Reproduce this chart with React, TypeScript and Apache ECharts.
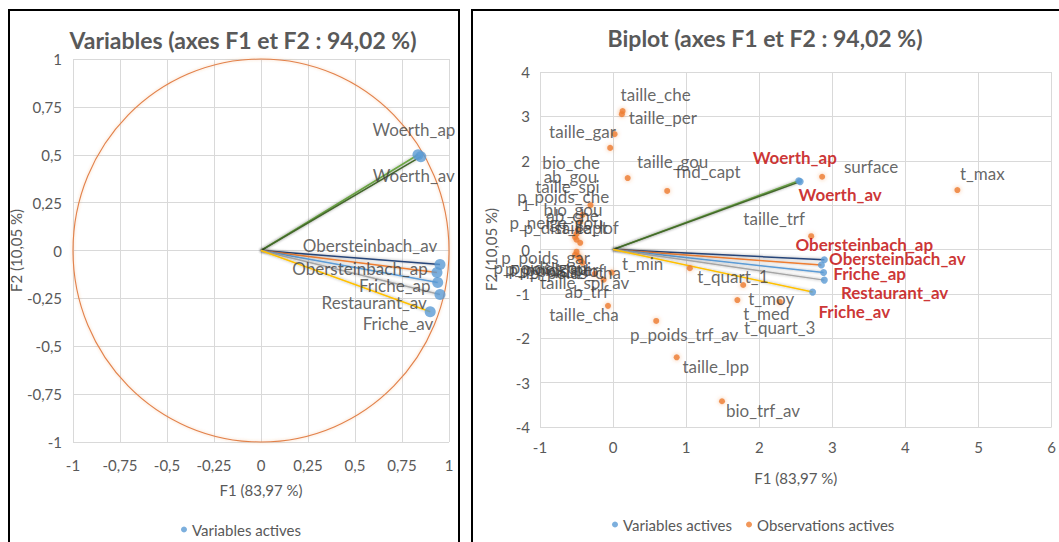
import React, { useEffect, useRef } from "react";
import * as echarts from "echarts";

// ---------- Data ----------
const TITLE_LEFT = "Variables (axes F1 et F2 : 94,02 %)";
const TITLE_RIGHT = "Biplot (axes F1 et F2 : 94,02 %)";
const X_NAME = "F1 (83,97 %)";
const Y_NAME = "F2 (10,05 %)";
const LEGEND_VAR = "Variables actives";
const LEGEND_OBS = "Observations actives";

const CIRCLE_RADIUS = 1;

const VAR_NAMES = ["Woerth_ap", "Woerth_av", "Obersteinbach_ap", "Obersteinbach_av", "Friche_ap", "Friche_av", "Restaurant_av"];
// correlation circle coordinates
const VAR_F1 = [0.835, 0.85, 0.952, 0.936, 0.94, 0.952, 0.9];
const VAR_F2 = [0.5, 0.49, -0.073, -0.115, -0.167, -0.23, -0.32];
// biplot coordinates of the variables
const BI_VAR_F1 = [2.54, 2.56, 2.89, 2.85, 2.88, 2.89, 2.73];
const BI_VAR_F2 = [1.55, 1.53, -0.23, -0.35, -0.52, -0.69, -0.96];

const OBS_NAMES = [
  "taille_che", "taille_per", "taille_gar", "bio_che", "taille_gou", "fnd_capt", "ab_gou", "taille_spi",
  "p_poids_che", "bio_gou", "ab_che", "p_neige_gou", "p_dist_capt", "taille_lof", "p_poids_gar", "p_poids_gou",
  "p_poids_spi", "p_poids_per", "p_poids_lof", "p_poids_cha", "taille_spi_av", "ab_trf", "surface", "t_max",
  "taille_trf", "t_min", "t_quart_1", "t_moy", "t_med", "t_quart_3", "p_poids_trf_av", "taille_lpp",
  "bio_trf_av", "taille_cha",
];
const OBS_F1 = [
  0.13, 0.12, 0.02, -0.04, 0.2, 0.74, -0.31, -0.42,
  -0.45, -0.48, -0.5, -0.52, -0.5, -0.45, -0.5, -0.52,
  -0.48, -0.46, -0.44, -0.42, -0.13, -0.25, 2.86, 4.71,
  2.71, -0.02, 1.05, 1.78, 1.7, 2.28, 0.59, 0.87,
  1.49, -0.07,
];
const OBS_F2 = [
  3.12, 3.05, 2.6, 2.29, 1.61, 1.32, 1.0, 0.78,
  0.62, 0.45, 0.35, 0.28, 0.22, 0.15, -0.05, -0.12,
  -0.15, -0.2, -0.25, -0.3, -0.68, -0.55, 1.64, 1.34,
  0.3, -0.52, -0.42, -0.8, -1.14, -1.18, -1.61, -2.43,
  -3.42, -1.27,
];

const LEFT_X_TICKS = { min: -1, max: 1, interval: 0.25 };
const LEFT_Y_TICKS = { min: -1, max: 1, interval: 0.25 };
const RIGHT_X_TICKS = { min: -1, max: 6, interval: 1 };
const RIGHT_Y_TICKS = { min: -4, max: 4, interval: 1 };

// ---------- Layout / style (label offsets in px from the point) ----------
const VAR_LINE_COLORS = ["#70AD47", "#43682B", "#264478", "#ED7D31", "#5B9BD5", "#A5A5A5", "#FFC000"];
const LEFT_LABEL_OFFSETS: Record<string, [number, number]> = {
  Woerth_ap: [-4, -25],
  Woerth_av: [-7, 19],
  Obersteinbach_ap: [-80, 4],
  Obersteinbach_av: [-67, -27],
  Friche_ap: [-43, 3],
  Friche_av: [-42, 29],
  Restaurant_av: [-56, -9],
};
const BI_VAR_LABEL_OFFSETS: Record<string, [number, number]> = {
  Woerth_ap: [-4, -23],
  Woerth_av: [40, 13],
  Obersteinbach_ap: [40, -15],
  Obersteinbach_av: [76, -7],
  Friche_ap: [46, 1],
  Friche_av: [30, 31],
  Restaurant_av: [82, 0],
};
const OBS_LABEL_OFFSETS: Record<string, [number, number]> = {
  taille_che: [33, -17],
  taille_per: [41, 3],
  taille_gar: [-32, -3],
  bio_che: [-39, 15],
  taille_gou: [45, -17],
  fnd_capt: [41, -19],
  ab_gou: [-20, -29],
  taille_spi: [-15, -28],
  p_poids_che: [-17, -25],
  bio_gou: [-5, -20],
  ab_che: [-4, -18],
  p_neige_gou: [-19, -15],
  p_dist_capt: [-11, -12],
  taille_lof: [7, -15],
  p_poids_gar: [-31, 6],
  p_poids_gou: [-35, 13],
  p_poids_spi: [-30, 12],
  p_poids_per: [-26, 11],
  p_poids_lof: [-19, 10],
  p_poids_cha: [-7, 10],
  taille_spi_av: [-19, 3],
  ab_trf: [-8, 18],
  surface: [49, -10],
  t_max: [25, -17],
  taille_trf: [-37, -18],
  t_min: [31, -9],
  t_quart_1: [43, 8],
  t_moy: [28, 13],
  t_med: [29, 13],
  t_quart_3: [0, 26],
  p_poids_trf_av: [28, 14],
  taille_lpp: [39, 9],
  bio_trf_av: [41, 9],
  taille_cha: [-24, 9],
};

const FONT = "Lato, 'Open Sans', sans-serif";
const AXIS_GRAY = "#595959";
const GRID_GRAY = "#D9D9D9";
const LABEL_GRAY = "#404040";
const LABEL_SIZE = 17;
const AXIS_SIZE = 15;

const fmt = (v: number) => String(v).replace(".", ",");

function axisBase(t: { min: number; max: number; interval: number }, gridIndex: number) {
  return {
    type: "value" as const,
    gridIndex,
    min: t.min,
    max: t.max,
    interval: t.interval,
    axisLine: { show: false },
    axisTick: { show: false },
    splitLine: { show: true, lineStyle: { color: GRID_GRAY, width: 1 } },
    axisLabel: { color: AXIS_GRAY, fontSize: AXIS_SIZE, fontFamily: FONT, formatter: fmt },
    nameTextStyle: { color: AXIS_GRAY, fontSize: AXIS_SIZE, fontFamily: FONT },
    name: "",
  };
}

export default function App() {
  const ref = useRef<HTMLDivElement>(null);
  useEffect(() => {
    if (!ref.current) return;
    const chart = echarts.init(ref.current, null, { renderer: "svg" });

    const series: any[] = [];

    // correlation circle
    series.push({
      type: "custom",
      xAxisIndex: 0,
      yAxisIndex: 0,
      silent: true,
      clip: false,
      z: 1,
      data: [[0, 0]],
      renderItem: (_p: any, api: any) => {
        const c = api.coord([0, 0]);
        const ex = api.coord([CIRCLE_RADIUS, 0]);
        const ey = api.coord([0, CIRCLE_RADIUS]);
        return {
          type: "ellipse",
          shape: { cx: c[0], cy: c[1], rx: ex[0] - c[0], ry: c[1] - ey[1] },
          style: { fill: "none", stroke: "#E2824A", lineWidth: 1.1, shadowBlur: 3, shadowColor: "rgba(237,125,49,0.4)" },
        };
      },
    });

    // vectors
    VAR_NAMES.forEach((n, i) => {
      series.push({
        type: "line",
        name: n + "_vec_l",
        xAxisIndex: 0,
        yAxisIndex: 0,
        data: [[0, 0], [VAR_F1[i], VAR_F2[i]]],
        symbol: "none",
        silent: true,
        z: 2,
        lineStyle: { color: VAR_LINE_COLORS[i], width: 1.5, shadowBlur: 3, shadowColor: "rgba(0,0,0,0.35)" },
      });
      series.push({
        type: "line",
        name: n + "_vec_r",
        xAxisIndex: 1,
        yAxisIndex: 1,
        data: [[0, 0], [BI_VAR_F1[i], BI_VAR_F2[i]]],
        symbol: "none",
        silent: true,
        z: 2,
        lineStyle: { color: VAR_LINE_COLORS[i], width: 1.5, shadowBlur: 3, shadowColor: "rgba(0,0,0,0.35)" },
      });
    });

    series.push({
      type: "scatter",
      name: LEGEND_VAR,
      xAxisIndex: 0,
      yAxisIndex: 0,
      symbolSize: 11,
      itemStyle: { color: "#5B9BD5" },
      z: 3,
      data: VAR_NAMES.map((n, i) => ({
        name: n,
        value: [VAR_F1[i], VAR_F2[i]],
        label: { offset: LEFT_LABEL_OFFSETS[n] },
      })),
      label: {
        show: true,
        position: "inside",
        formatter: "{b}",
        color: LABEL_GRAY,
        fontSize: LABEL_SIZE,
        fontFamily: FONT,
      },
    });

    series.push({
      type: "scatter",
      name: LEGEND_OBS,
      xAxisIndex: 1,
      yAxisIndex: 1,
      symbolSize: 6,
      itemStyle: { color: "#ED7D31", shadowBlur: 4, shadowColor: "rgba(237,125,49,0.6)" },
      z: 3,
      data: OBS_NAMES.map((n, i) => ({
        name: n,
        value: [OBS_F1[i], OBS_F2[i]],
        label: { offset: OBS_LABEL_OFFSETS[n] || [0, 0] },
      })),
      label: {
        show: true,
        position: "inside",
        formatter: "{b}",
        color: LABEL_GRAY,
        fontSize: LABEL_SIZE,
        fontFamily: FONT,
      },
    });

    series.push({
      type: "scatter",
      name: LEGEND_VAR,
      xAxisIndex: 1,
      yAxisIndex: 1,
      symbolSize: 7,
      itemStyle: { color: "#5B9BD5" },
      z: 4,
      data: VAR_NAMES.map((n, i) => ({
        name: n,
        value: [BI_VAR_F1[i], BI_VAR_F2[i]],
        label: { offset: BI_VAR_LABEL_OFFSETS[n] },
      })),
      label: {
        show: true,
        position: "inside",
        formatter: "{b}",
        color: "#C00000",
        fontWeight: "bold",
        fontSize: LABEL_SIZE,
        fontFamily: FONT,
      },
    });

    const lx = axisBase(LEFT_X_TICKS, 0);
    const ly = axisBase(LEFT_Y_TICKS, 0);
    const rx = axisBase(RIGHT_X_TICKS, 1);
    const ry = axisBase(RIGHT_Y_TICKS, 1);

    const legendText = { color: AXIS_GRAY, fontSize: 15, fontFamily: FONT };

    const option: any = {
      animation: false,
      backgroundColor: "#ffffff",
      grid: [
        { left: 73, top: 59, width: 376, height: 383 },
        { left: 540, top: 72, width: 512, height: 355 },
      ],
      xAxis: [
        { ...lx, name: X_NAME, nameLocation: "middle", nameGap: 40, axisLabel: { ...lx.axisLabel, margin: 15 } },
        { ...rx, name: X_NAME, nameLocation: "middle", nameGap: 43, axisLabel: { ...rx.axisLabel, margin: 12 } },
      ],
      yAxis: [
        { ...ly, name: Y_NAME, nameLocation: "middle", nameGap: 46, axisLabel: { ...ly.axisLabel, margin: 11 } },
        { ...ry, name: Y_NAME, nameLocation: "middle", nameGap: 42, axisLabel: { ...ry.axisLabel, margin: 10 } },
      ],
      legend: [
        {
          data: [LEGEND_VAR],
          left: 176,
          top: 517,
          icon: "circle",
          itemWidth: 6,
          itemHeight: 6,
          itemGap: 20,
          textStyle: legendText,
        },
        {
          data: [LEGEND_VAR, LEGEND_OBS],
          left: 607,
          top: 512,
          icon: "circle",
          itemWidth: 6,
          itemHeight: 6,
          itemGap: 14,
          textStyle: legendText,
        },
      ],
      graphic: [
        { type: "rect", shape: { x: 9, y: 10, width: 450, height: 600 }, style: { fill: "none", stroke: "#000", lineWidth: 2 }, z: 10 },
        { type: "rect", shape: { x: 472, y: 10, width: 620, height: 600 }, style: { fill: "none", stroke: "#000", lineWidth: 2 }, z: 10 },
        {
          type: "text",
          x: 243,
          y: 40,
          style: { text: TITLE_LEFT, fill: AXIS_GRAY, font: `bold 23px ${FONT}`, textAlign: "center", textVerticalAlign: "middle" },
        },
        {
          type: "text",
          x: 765,
          y: 38,
          style: { text: TITLE_RIGHT, fill: AXIS_GRAY, font: `bold 23px ${FONT}`, textAlign: "center", textVerticalAlign: "middle" },
        },
      ],
      series,
    };

    chart.setOption(option);
    return () => chart.dispose();
  }, []);
  return <div ref={ref} style={{ position: "absolute", left: 0, top: 0, width: 1059, height: 542 }} />;
}
